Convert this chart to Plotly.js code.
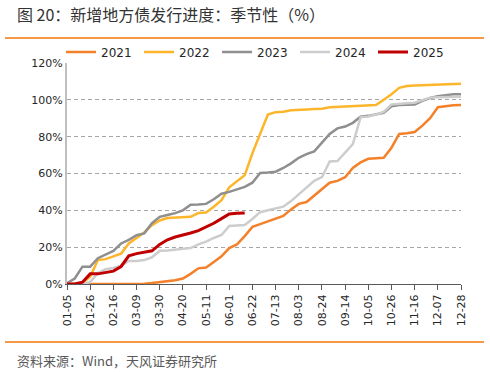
<!DOCTYPE html>
<html>
<head>
<meta charset="utf-8">
<script src="https://cdn.plot.ly/plotly-3.0.1.min.js"></script>
<style>
html,body{margin:0;padding:0;background:#fff;}
#chart{width:490px;height:372px;}
</style>
</head>
<body>
<div id="chart"></div>
<script>
// Weekly dates (52 weeks)
const weeks = ["01-05","01-12","01-19","01-26","02-02","02-09","02-16","02-23","03-02","03-09",
  "03-16","03-23","03-30","04-06","04-13","04-20","04-27","05-04","05-11","05-18",
  "05-25","06-01","06-08","06-15","06-22","06-29","07-06","07-13","07-20","07-27",
  "08-03","08-10","08-17","08-24","08-31","09-07","09-14","09-21","09-28","10-05",
  "10-12","10-19","10-26","11-02","11-09","11-16","11-23","11-30","12-07","12-14",
  "12-21","12-28"];
const tickLabels = ["01-05","01-26","02-16","03-09","03-30","04-20","05-11","06-01","06-22",
  "07-13","08-03","08-24","09-14","10-05","10-26","11-16","12-07","12-28"];
const seriesNames = ["2021","2022","2023","2024","2025"];

const y2021 = [0,0,0,0,0,0,0,0,0,0,
  0.2,0.5,1,1.3,2,3,5.5,8.5,9,12,
  15,19.5,21.5,26,31,32.5,34,35.5,37,40.5,
  43.5,44.5,48,51.5,55,56,58,63,66,68,
  68.2,68.5,74,81.5,81.8,82.5,86,90,96,96.7,
  97,97.2];
const y2022 = [0,0,0.5,4,13,13.5,15,16.5,22,25,
  28,32,34.5,35.8,36,36.2,36.5,38.5,38.8,42,
  45.5,52.5,56,59,71,81,92,93.3,93.5,94.3,
  94.7,94.8,95,95.2,96,96.2,96.3,96.6,96.8,97,
  97.2,100,103,106.5,107.5,107.8,108,108.2,108.3,108.5,
  108.6,108.7];
const y2023 = [0.5,3,9.4,9.4,14,16,18,22,24,26.5,
  27.5,33,36.5,37.5,38.5,40,43,43.2,43.5,46,
  49,50,51.5,52.7,55,60.3,60.6,61,63,65.5,
  68.5,70.5,72,77,81.5,84.5,85.5,87.5,90.8,91.3,
  92,93,96.5,97.2,97.3,97.5,99.5,101,102,102.7,
  103,103];
const y2024 = [0,0,0,1,6,8,8.7,10,12.5,12.5,
  13,14.5,18,18.2,18.5,19,19.5,21.5,23,25,
  26.6,31.5,31.7,32,35.3,39,40,40.8,42,45,
  48.5,52.5,56,58,66.5,66.8,71.5,76,90.5,91,
  92,93.5,97.5,98,98.2,98.4,100,101.2,101.4,101.5,
  101.6,101.7];
const y2025 = [0,0,1,5.5,5.5,6.3,7,9.5,15.3,16.5,
  17.2,18,21.5,24,25.5,26.5,27.7,29,31,33,
  35.5,38,38.4,38.6];

const colors = ["#F4802A","#FDB62B","#8F8F8F","#CDCDCD","#C00000"];
const widths = [2.5,2.5,2.5,2.5,3];
const allY = [y2021,y2022,y2023,y2024,y2025];

const traces = seriesNames.map((n,k)=>({
  type:'scatter', mode:'lines', name:n,
  x: weeks.slice(0, allY[k].length), y: allY[k],
  line:{color:colors[k], width:widths[k]},
  hoverinfo:'skip'
}));

const L=67, R=461, T=63, B=284;
const W=R-L, H=B-T;
const px=(x)=>(x-L)/W, py=(y)=>(B-y)/H;
const txtFont = "DejaVu Sans, Noto Sans CJK SC, sans-serif";
const cjkFont = "Noto Sans CJK SC, DejaVu Sans, sans-serif";

const layout = {
  width:490, height:372,
  margin:{l:L, r:490-R, t:T, b:372-B},
  paper_bgcolor:'#fff', plot_bgcolor:'#fff',
  font:{family:txtFont, size:11, color:'#262626'},
  showlegend:true,
  legend:{orientation:'h', x:px(61), xanchor:'left', y:py(52), yanchor:'middle',
    font:{family:txtFont, size:12, color:'#262626'}, entrywidth:33, bgcolor:'rgba(0,0,0,0)',
    itemclick:false},
  xaxis:{type:'category', range:[0, weeks.length-1], tickmode:'array',
    tickvals:tickLabels, ticktext:tickLabels, tickangle:-90,
    showgrid:false, showline:true, linecolor:'#595959', linewidth:1,
    ticks:'outside', ticklen:5, tickcolor:'#595959', tickwidth:1,
    tickfont:{family:txtFont, size:11, color:'#262626'}, zeroline:false},
  yaxis:{range:[0,120], dtick:20, tick0:0, ticksuffix:'%',
    showgrid:true, gridcolor:'#A6A6A6', gridwidth:1, griddash:'4px,3px',
    showline:true, linecolor:'#BFBFBF', linewidth:2, zeroline:false,
    ticks:'', tickfont:{family:txtFont, size:11, color:'#262626'}},
  shapes:[
    {type:'line', xref:'paper', yref:'paper', x0:px(5), x1:px(484), y0:py(38), y1:py(38),
     line:{color:'#F4994A', width:2}},
    {type:'line', xref:'paper', yref:'paper', x0:px(5), x1:px(484), y0:py(342), y1:py(342),
     line:{color:'#F4994A', width:2}}
  ],
  annotations:[
    {xref:'paper', yref:'paper', x:px(15), y:py(14), xanchor:'left', yanchor:'middle',
     text:'图 20：新增地方债发行进度：季节性（%）', showarrow:false,
     font:{family:cjkFont, size:16, color:'#333333'}},
    {xref:'paper', yref:'paper', x:px(15), y:py(360), xanchor:'left', yanchor:'middle',
     text:'资料来源：Wind，天风证券研究所', showarrow:false,
     font:{family:cjkFont, size:13, color:'#595959'}}
  ]
};

Plotly.newPlot('chart', traces, layout, {staticPlot:true, displayModeBar:false});
</script>
</body>
</html>
